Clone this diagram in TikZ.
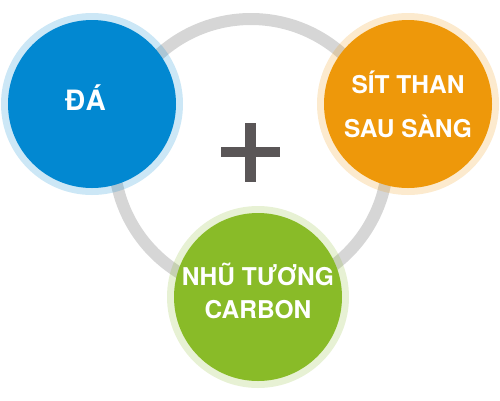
\documentclass[tikz,border=0pt]{standalone}
\usepackage{fontspec}
\setmainfont{TeX Gyre Heros}
\definecolor{daBlue}{RGB}{2,136,209}
\definecolor{sitOrange}{RGB}{238,152,10}
\definecolor{nhuGreen}{RGB}{137,187,40}
\definecolor{ringGray}{RGB}{214,214,214}
\definecolor{plusGray}{RGB}{90,86,87}
\begin{document}
\begin{tikzpicture}[x=1pt,y=-1pt,
  halo/.style={circle,inner sep=0pt,minimum size=182pt,fill opacity=0.2},
  disc/.style={circle,inner sep=0pt,minimum size=168pt},
  lbl/.style={text=white,align=center}]
  \useasboundingbox (0,0) rectangle (500,400);
  \draw[line width=12pt,ringGray] (251,156) circle[radius=137pt];
  \node[halo,fill=daBlue] (daHalo) at (92,104) {};
  \node[disc,fill=daBlue] (da) at (92,104) {};
  \node[halo,fill=sitOrange] (sitHalo) at (408,104) {};
  \node[disc,fill=sitOrange] (sit) at (408,104) {};
  \node[halo,fill=nhuGreen] (nhuHalo) at (258,297) {};
  \node[disc,fill=nhuGreen] (nhu) at (258,297) {};
  \fill[plusGray] (245,123) rectangle (256,182);
  \fill[plusGray] (221,147) rectangle (280,157);
  \node[lbl,font=\bfseries\fontsize{28}{30}\selectfont\addfontfeature{LetterSpace=4}] (daText) at (85.5,97.5) {ĐÁ};
  \node[lbl,font=\bfseries\fontsize{24.5}{44}\selectfont] (sitText) at (408,104) {SÍT THAN\\SAU SÀNG};
  \node[lbl,font=\bfseries\fontsize{24.5}{33}\selectfont] (nhuText) at (258,291) {NHŨ TƯƠNG\\CARBON};
\end{tikzpicture}
\end{document}
